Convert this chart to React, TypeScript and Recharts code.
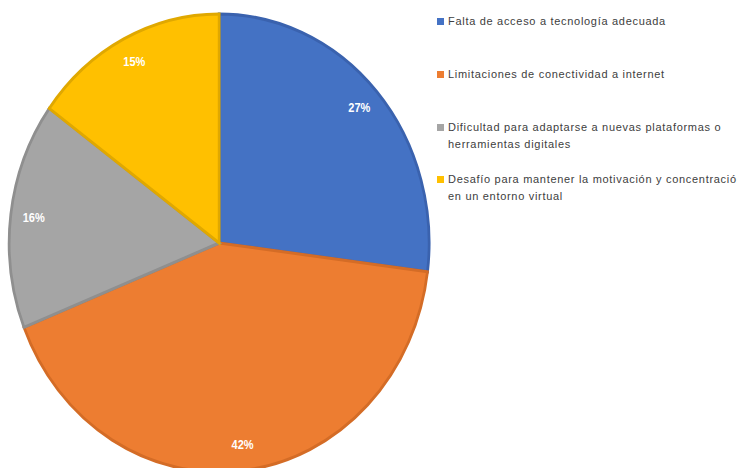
import React from "react";
import { PieChart, Pie, Cell } from "recharts";

const categories = [
  "Falta de acceso a tecnología adecuada",
  "Limitaciones de conectividad a internet",
  "Dificultad para adaptarse a nuevas plataformas o herramientas digitales",
  "Desafío para mantener la motivación y concentración en un entorno virtual",
];
const legendLines = [
  ["Falta de acceso a tecnología adecuada"],
  ["Limitaciones de conectividad a internet"],
  ["Dificultad para adaptarse a nuevas plataformas o", "herramientas digitales"],
  ["Desafío para mantener la motivación y concentración", "en un entorno virtual"],
];
const values = [27, 42, 16, 15];
const colors = ["#4472C4", "#ED7D31", "#A5A5A5", "#FFC000"];
const strokes = ["#3A62AE", "#D46C26", "#8F8F8F", "#E0A800"];

const data = categories.map((name, i) => ({ name, value: values[i] }));

const RAD = Math.PI / 180;
const renderLabel = (props: any) => {
  const { cx, cy, midAngle, outerRadius, value } = props;
  const r = outerRadius * 0.89;
  const x = cx + r * Math.cos(-midAngle * RAD);
  const y = cy + r * Math.sin(-midAngle * RAD);
  return (
    <text
      x={x}
      y={y}
      fill="#FFFFFF"
      fontSize={12}
      fontWeight="bold"
      fontFamily="'Liberation Sans', Arial, sans-serif"
      textAnchor="middle"
      dominantBaseline="central"
    >
      {`${value}%`}
    </text>
  );
};

const legendTops = [13, 66, 119, 171];

export default function App() {
  return (
    <div
      style={{
        position: "absolute",
        left: 0,
        top: 0,
        width: 737,
        height: 468,
        background: "#FFFFFF",
        overflow: "hidden",
      }}
    >
      <div
        style={{
          position: "absolute",
          left: 0,
          top: 0,
          transform: "scaleX(0.917)",
          transformOrigin: "0 0",
        }}
      >
        <PieChart width={480} height={468}>
          <Pie
            data={data}
            dataKey="value"
            nameKey="name"
            cx={234}
            cy={238}
            outerRadius={229}
            startAngle={90}
            endAngle={-270}
            isAnimationActive={false}
            label={renderLabel}
            labelLine={false}
          >
            {data.map((d, i) => (
              <Cell key={d.name} fill={colors[i]} stroke={strokes[i]} strokeWidth={3} />
            ))}
          </Pie>
        </PieChart>
      </div>
      {legendLines.map((lines, i) => (
        <div
          key={i}
          style={{
            position: "absolute",
            left: 437,
            top: legendTops[i],
            fontFamily: "'Liberation Sans', Arial, sans-serif",
            fontSize: 11,
            letterSpacing: 0.7,
            lineHeight: "17px",
            color: "#404040",
            whiteSpace: "nowrap",
          }}
        >
          <span
            style={{
              display: "inline-block",
              width: 7,
              height: 7,
              background: colors[i],
              marginRight: 4,
              verticalAlign: "middle",
              position: "relative",
              top: -1,
            }}
          />
          {lines[0]}
          {lines[1] ? <div style={{ paddingLeft: 11 }}>{lines[1]}</div> : null}
        </div>
      ))}
    </div>
  );
}
